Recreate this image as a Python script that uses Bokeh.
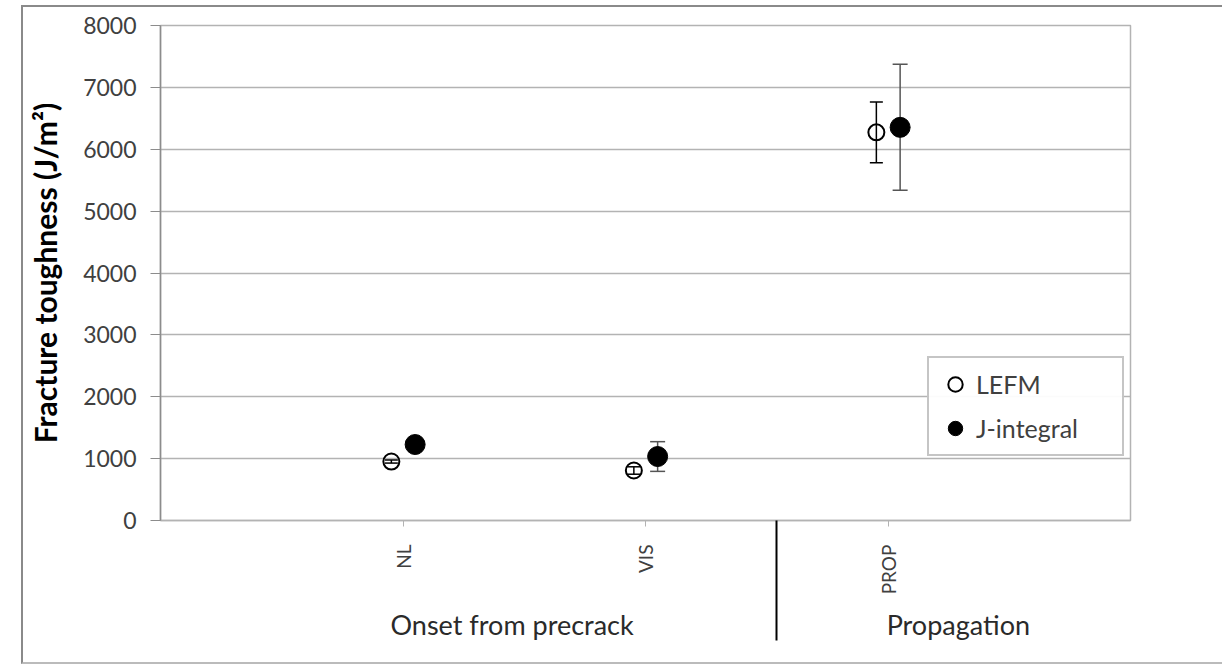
import math
from bokeh.plotting import figure
from bokeh.models import (ColumnDataSource, Whisker, TeeHead, FixedTicker, LinearAxis,
                          Legend, LegendItem, Range1d)
from bokeh.embed import file_html
from bokeh.resources import INLINE

# ---- data ----
categories = ["NL", "VIS", "PROP"]
groups = ["Onset from precrack", "Propagation"]
lefm = [953, 808, 6273]
lefm_err = [25, 60, 490]
jint = [1228, 1034, 6354]
jint_err = [60, 240, 1018]
y_ticks = [0, 1000, 2000, 3000, 4000, 5000, 6000, 7000, 8000]

FONT = "Lato"
TXT = "#404040"
GRID = "#b3b3b3"

idx = list(range(1, len(categories) + 1))
off_l, off_j = -0.048, 0.05
src_l = ColumnDataSource(dict(
    x=[i + off_l for i in idx], y=lefm,
    lo=[v - e for v, e in zip(lefm, lefm_err)], hi=[v + e for v, e in zip(lefm, lefm_err)]))
src_j = ColumnDataSource(dict(
    x=[i + off_j for i in idx], y=jint,
    lo=[v - e for v, e in zip(jint, jint_err)], hi=[v + e for v, e in zip(jint, jint_err)]))

p = figure(width=1201, height=659, output_backend="svg", toolbar_location=None,
           x_range=Range1d(0, 4), y_range=Range1d(0, 8000),
           min_border_left=137, min_border_right=94, min_border_top=18, min_border_bottom=146,
           x_axis_location=None)
p.styles = {"margin-left": "21px", "margin-top": "5px",
            "border-left": "2px solid #8a8a8a", "border-top": "2px solid #8a8a8a",
            "border-bottom": "2px solid #bbbbbb"}
p.outline_line_color = GRID
p.outline_line_width = 1.5
p.xgrid.grid_line_color = None
p.ygrid.grid_line_color = GRID
p.ygrid.grid_line_width = 1.5
p.ygrid.ticker = FixedTicker(ticks=y_ticks)

# y axis
p.yaxis.ticker = FixedTicker(ticks=y_ticks)
p.yaxis.axis_line_color = "#8c8c8c"
p.yaxis.axis_line_width = 1.5
p.yaxis.major_tick_line_color = "#8c8c8c"
p.yaxis.major_tick_out = 10
p.yaxis.major_tick_in = 0
p.yaxis.minor_tick_line_color = None
p.yaxis.major_label_text_font = FONT
p.yaxis.major_label_text_font_size = "23px"
p.yaxis.major_label_text_color = TXT
p.yaxis.major_label_standoff = 14
p.yaxis.axis_label = "Fracture toughness (J/m\u00b2)"
p.yaxis.axis_label_text_font = FONT
p.yaxis.axis_label_text_font_style = "bold"
p.yaxis.axis_label_text_font_size = "30px"
p.yaxis.axis_label_text_color = "#000000"
p.yaxis.axis_label_standoff = 17

# x axis with categories (+ a long minor tick as the group separator)
SEP = 120
xa = LinearAxis(ticker=FixedTicker(ticks=idx, minor_ticks=[2.54]),
                major_label_overrides={i: c for i, c in zip(idx, categories)})
xa.major_label_orientation = math.pi / 2
xa.axis_line_color = GRID
xa.axis_line_width = 1.5
xa.major_tick_line_color = GRID
xa.major_tick_out = 6
xa.major_tick_in = 0
xa.minor_tick_line_color = "#000000"
xa.minor_tick_line_width = 2
xa.minor_tick_out = SEP
xa.minor_tick_in = 0
xa.major_label_text_font = FONT
xa.major_label_text_font_size = "19px"
xa.major_label_text_color = TXT
xa.major_label_standoff = 24 - SEP
p.add_layout(xa, "below")

# group label axis
ga = LinearAxis(ticker=FixedTicker(ticks=[1.45, 3.29]),
                major_label_overrides={1.45: groups[0], 3.29: groups[1]})
ga.axis_line_color = None
ga.major_tick_line_color = None
ga.minor_tick_line_color = None
ga.major_label_text_font = FONT
ga.major_label_text_font_size = "27px"
ga.major_label_text_color = "#2a2a2a"
ga.major_label_standoff = 4
p.add_layout(ga, "below")

# error bars
wl = Whisker(source=src_l, base="x", lower="lo", upper="hi", line_color="#000000", line_width=1.5,
             upper_head=TeeHead(size=13, line_color="#000000", line_width=1.5),
             lower_head=TeeHead(size=13, line_color="#000000", line_width=1.5))
wj = Whisker(source=src_j, base="x", lower="lo", upper="hi", line_color="#555555", line_width=1.5,
             upper_head=TeeHead(size=15, line_color="#555555", line_width=1.5),
             lower_head=TeeHead(size=15, line_color="#555555", line_width=1.5))
p.add_layout(wl)
p.add_layout(wj)

r_l = p.scatter("x", "y", source=src_l, size=16, marker="circle", fill_color="white",
                fill_alpha=0, line_color="#000000", line_width=2)
r_j = p.scatter("x", "y", source=src_j, size=20, marker="circle", fill_color="#000000",
                line_color="#000000")

legend = Legend(items=[LegendItem(label="LEFM", renderers=[r_l]),
                       LegendItem(label="J-integral", renderers=[r_j])],
                location=(767, 64))
legend.border_line_color = "#8c8c8c"
legend.border_line_width = 2
legend.label_text_font = FONT
legend.label_text_font_size = "25px"
legend.label_text_color = TXT
legend.padding = 8
legend.spacing = 8
legend.glyph_width = 36
legend.glyph_height = 36
legend.label_height = 30
legend.label_width = 138
legend.label_standoff = 3
legend.margin = 0
p.add_layout(legend, "center")

open("out.html", "w").write(file_html(p, INLINE))
